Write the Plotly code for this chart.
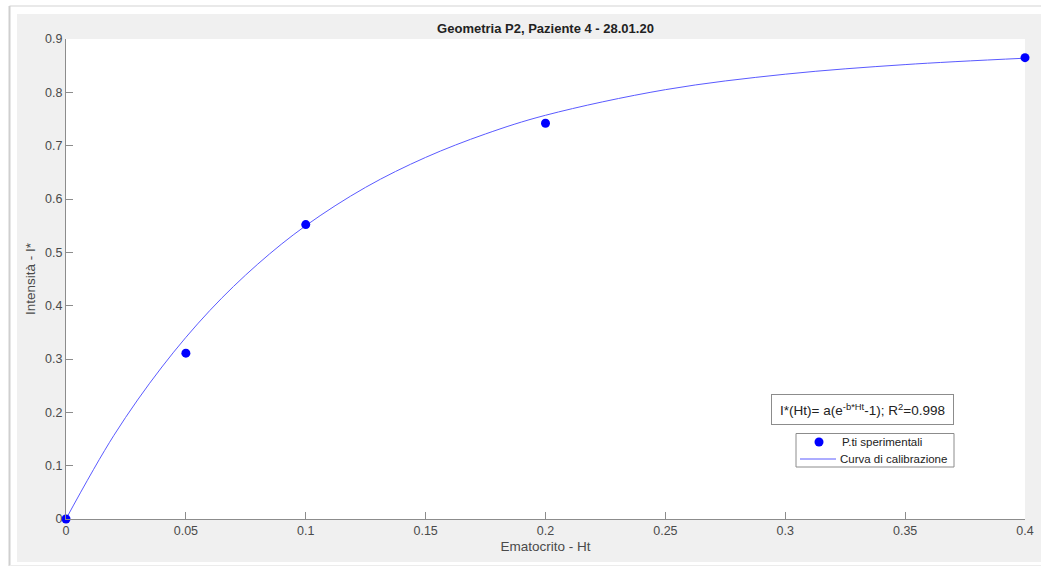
import plotly.graph_objects as go

# Data
ht_points = [0.0, 0.05, 0.1, 0.2, 0.4]
i_points = [0.0, 0.311, 0.552, 0.742, 0.865]

ht_curve = [0.0, 0.02, 0.04, 0.06, 0.08, 0.1, 0.125, 0.15, 0.175, 0.2, 0.25, 0.3, 0.35, 0.4]
i_curve = [0.0, 0.157, 0.285, 0.391, 0.478, 0.550, 0.622, 0.678, 0.722, 0.757, 0.805, 0.834, 0.852, 0.864]

x_ticks = [0, 0.05, 0.1, 0.15, 0.2, 0.25, 0.3, 0.35, 0.4]
y_ticks = [0, 0.1, 0.2, 0.3, 0.4, 0.5, 0.6, 0.7, 0.8, 0.9]

legend_labels = ["P.ti sperimentali", "Curva di calibrazione"]

W, H = 1041, 568
L, R, T, B = 66, 1025, 39, 519

def px(x):
    return (x - L) / (R - L)

def py(y):
    return (B - y) / (B - T)

FONT = "Liberation Sans, Arial, sans-serif"
TXT = "#4a4a4a"
DOT = "#0000ff"
LINE = "rgb(90,90,255)"
BOX = "#8c8c8c"

fig = go.Figure()
fig.add_trace(go.Scatter(
    x=ht_curve, y=i_curve, mode="lines", name=legend_labels[1],
    line=dict(color=LINE, width=1, shape="spline"), showlegend=False,
))
fig.add_trace(go.Scatter(
    x=ht_points, y=i_points, mode="markers", name=legend_labels[0],
    marker=dict(color=DOT, size=9), cliponaxis=False, showlegend=False,
))

def P(x, y):
    return px(x), py(y)

shapes = [
    # white outer strips (window frame)
    dict(type="rect", xref="paper", yref="paper", x0=px(0), x1=px(W), y0=py(0), y1=py(14),
         fillcolor="white", line_width=0, layer="below"),
    dict(type="rect", xref="paper", yref="paper", x0=px(0), x1=px(17), y0=py(0), y1=py(H),
         fillcolor="white", line_width=0, layer="below"),
    dict(type="rect", xref="paper", yref="paper", x0=px(0), x1=px(W), y0=py(562), y1=py(H),
         fillcolor="white", line_width=0, layer="below"),
    dict(type="line", xref="paper", yref="paper", x0=px(9.5), x1=px(W), y0=py(6), y1=py(6),
         line=dict(color="#e2e2e2", width=1.5), layer="below"),
    dict(type="line", xref="paper", yref="paper", x0=px(9.5), x1=px(9.5), y0=py(6), y1=py(566),
         line=dict(color="#cfcfcf", width=2), layer="below"),
    dict(type="line", xref="paper", yref="paper", x0=px(9.5), x1=px(W), y0=py(565.5), y1=py(565.5),
         line=dict(color="#ececec", width=1), layer="below"),
    # legend box
    dict(type="rect", xref="paper", yref="paper", x0=px(796), x1=px(954), y0=py(433.5), y1=py(467),
         fillcolor="white", line=dict(color=BOX, width=1), layer="above"),
    # legend marker sample
    dict(type="circle", xref="paper", yref="paper", x0=px(814.5), x1=px(823.5), y0=py(437.5), y1=py(446.5),
         fillcolor=DOT, line=dict(color=DOT, width=0), layer="above"),
    # legend line sample
    dict(type="line", xref="paper", yref="paper", x0=px(800), x1=px(836), y0=py(459), y1=py(459),
         line=dict(color=LINE, width=1), layer="above"),
]

axis_common = dict(
    showgrid=False, zeroline=False, showline=True, linecolor=BOX, linewidth=1,
    ticks="inside", ticklen=7, tickwidth=1, tickcolor=BOX, automargin=False,
    tickfont=dict(family=FONT, size=12.5, color=TXT), mirror=False,
)

annotations = [
    dict(text="I*(Ht)= a(e<sup>-b*Ht</sup>-1); R<sup>2</sup>=0.998",
         xref="paper", yref="paper", x=px(862.5), y=py(409.5), xanchor="center", yanchor="middle",
         showarrow=False, bgcolor="white", bordercolor=BOX, borderwidth=1, borderpad=0,
         width=181, height=29, align="center",
         font=dict(family=FONT, size=13.5, color="#222222")),
    dict(text=legend_labels[0], xref="paper", yref="paper", x=px(840), y=py(442),
         xanchor="left", yanchor="middle", showarrow=False,
         font=dict(family=FONT, size=11.5, color="#222222")),
    dict(text=legend_labels[1], xref="paper", yref="paper", x=px(838), y=py(459),
         xanchor="left", yanchor="middle", showarrow=False,
         font=dict(family=FONT, size=11.5, color="#222222")),
]

fig.update_layout(
    width=W, height=H,
    margin=dict(l=L, r=W - R, t=T, b=H - B, autoexpand=False),
    paper_bgcolor="#f0f0f0", plot_bgcolor="white",
    font=dict(family=FONT, color=TXT),
    showlegend=False,
    title=dict(text="<b>Geometria P2, Paziente 4 - 28.01.20</b>",
               font=dict(family=FONT, size=13, color="#222222"),
               x=0.5, xanchor="center", xref="paper",
               y=1 - 28 / H, yanchor="middle", yref="container"),
    xaxis=dict(range=[0, 0.4], tickvals=x_ticks, ticktext=[str(v) for v in x_ticks],
               title=dict(text="Ematocrito - Ht", font=dict(family=FONT, size=13.5, color=TXT),
                          standoff=4),
               **axis_common),
    yaxis=dict(range=[0, 0.9], tickvals=y_ticks, ticktext=[str(v) for v in y_ticks],
               title=dict(text="Intensità - I*", font=dict(family=FONT, size=13.5, color=TXT),
                          standoff=6),
               **axis_common),
    shapes=shapes,
    annotations=annotations,
)

fig.write_html("out.html")
